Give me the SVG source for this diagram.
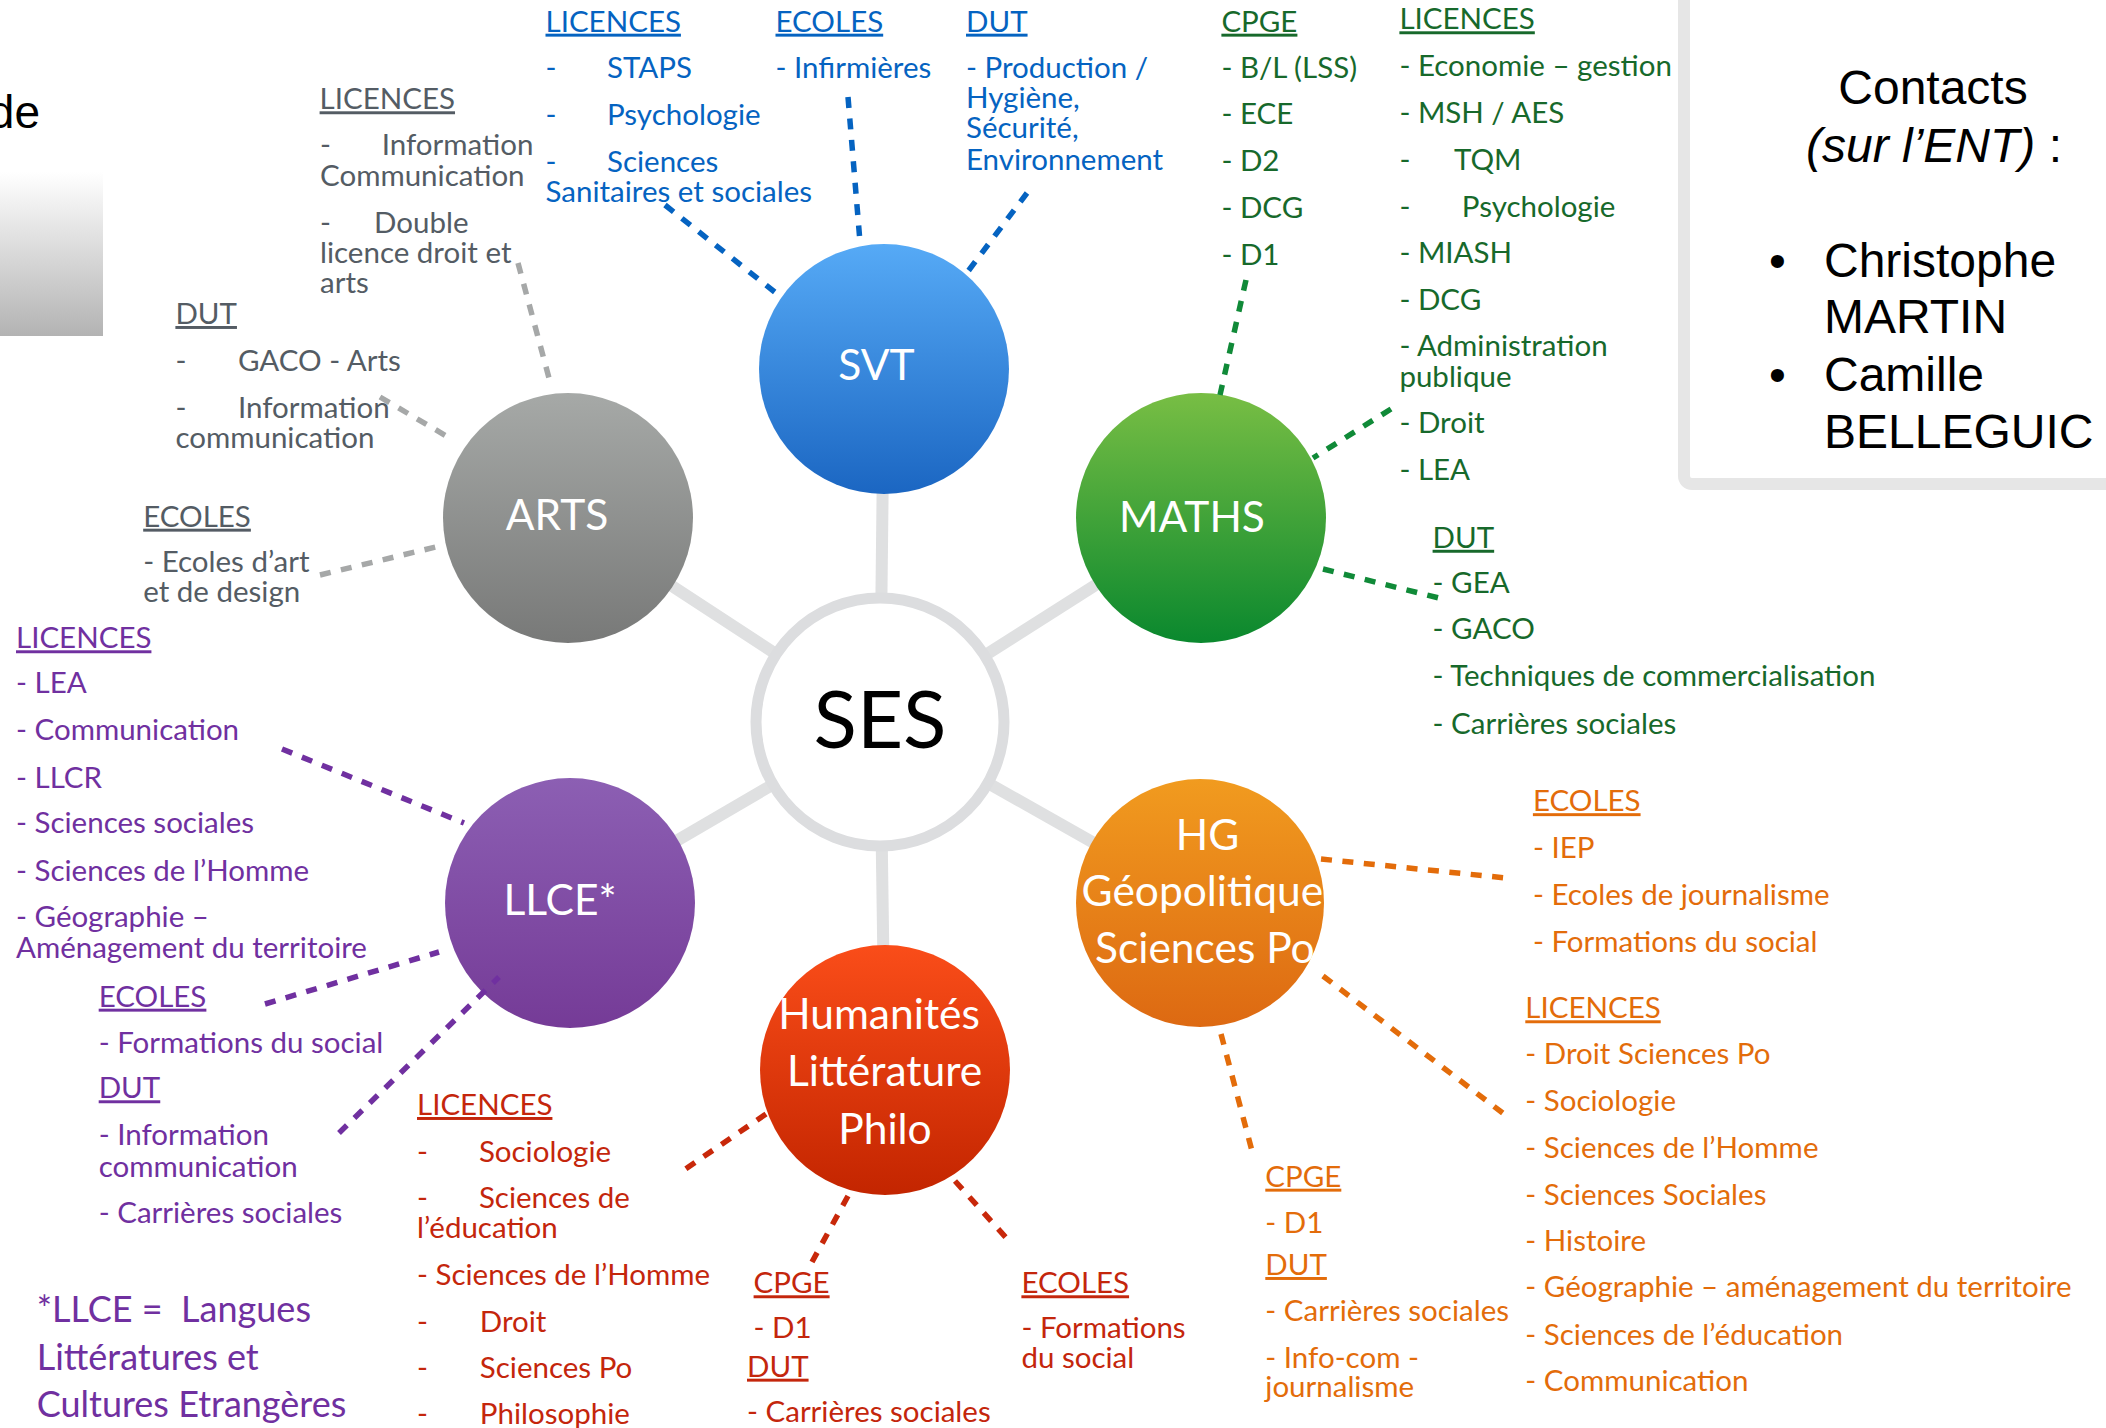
<svg xmlns="http://www.w3.org/2000/svg" width="2106" height="1428" viewBox="0 0 2106 1428">
<style>
.t{font-family:Lato,'Open Sans',sans-serif;font-size:29.5px}
.u{text-decoration:underline}
.blue{fill:#0563c1}
.gray{fill:#545c64}
.green{fill:#17692b}
.purple{fill:#7030a0}
.red{fill:#c4260c}
.orange{fill:#e36c0a}
.lbl{font-family:Lato,'Open Sans',sans-serif;font-size:42.5px;fill:#ffffff}
.ar{font-family:'Liberation Sans',Arial,sans-serif;font-size:48px;fill:#000000}
.spoke{stroke:#dfe0e1;stroke-width:12;fill:none}
.c{fill:none;stroke-width:5.5;stroke-dasharray:11 10.5}
.cb{stroke:#0563c1}.cg{stroke:#a6a8a8}.cgr{stroke:#108a38}.cp{stroke:#7030a0}.cr{stroke:#c8280a}.co{stroke:#e36c0a}
</style>
<defs>
<linearGradient id="gSVT" x1="0" y1="0" x2="0" y2="1"><stop offset="0" stop-color="#56aaf6"/><stop offset="1" stop-color="#1b66c2"/></linearGradient>
<linearGradient id="gARTS" x1="0" y1="0" x2="0" y2="1"><stop offset="0" stop-color="#a6a9a7"/><stop offset="1" stop-color="#787978"/></linearGradient>
<linearGradient id="gMATHS" x1="0" y1="0" x2="0" y2="1"><stop offset="0" stop-color="#78be44"/><stop offset="1" stop-color="#0a882e"/></linearGradient>
<linearGradient id="gLLCE" x1="0" y1="0" x2="0" y2="1"><stop offset="0" stop-color="#8c5fb3"/><stop offset="1" stop-color="#753b97"/></linearGradient>
<linearGradient id="gHG" x1="0" y1="0" x2="0" y2="1"><stop offset="0" stop-color="#f19b1f"/><stop offset="1" stop-color="#dd6912"/></linearGradient>
<linearGradient id="gHUM" x1="0" y1="0" x2="0" y2="1"><stop offset="0" stop-color="#fa4d19"/><stop offset="1" stop-color="#c32500"/></linearGradient>
<linearGradient id="gBox" x1="0" y1="0" x2="0" y2="1"><stop offset="0" stop-color="#ffffff"/><stop offset="1" stop-color="#b3b3b3"/></linearGradient>
</defs>
<rect width="2106" height="1428" fill="#ffffff"/>

<g id="decor">
<rect x="0" y="172" width="103" height="164" fill="url(#gBox)"/>
<text class="ar" x="40" y="128" text-anchor="end" style="font-size:46px">de</text>
</g>

<g id="spokes">
<line class="spoke" x1="880" y1="722" x2="884" y2="369"/>
<line class="spoke" x1="880" y1="722" x2="885" y2="1070"/>
<line class="spoke" x1="880" y1="722" x2="568" y2="518"/>
<line class="spoke" x1="880" y1="722" x2="1201" y2="518"/>
<line class="spoke" x1="880" y1="722" x2="570" y2="903"/>
<line class="spoke" x1="880" y1="722" x2="1200" y2="903"/>
</g>

<g id="node-ses">
<circle cx="880" cy="722" r="124" fill="#ffffff" stroke="#dcdddf" stroke-width="11"/>
<text x="880" y="748" text-anchor="middle" style="font-family:Lato,'Open Sans',sans-serif;font-size:80px;fill:#000">SES</text>
</g>
<g id="node-svt">
<circle cx="884" cy="369" r="125" fill="url(#gSVT)"/>
<text class="lbl" x="876.5" y="380" text-anchor="middle">SVT</text>
</g>
<g id="node-arts">
<circle cx="568" cy="518" r="125" fill="url(#gARTS)"/>
<text class="lbl" x="557" y="530" text-anchor="middle">ARTS</text>
</g>
<g id="node-maths">
<circle cx="1201" cy="518" r="125" fill="url(#gMATHS)"/>
<text class="lbl" x="1192" y="532" text-anchor="middle">MATHS</text>
</g>
<g id="node-llce">
<circle cx="570" cy="903" r="125" fill="url(#gLLCE)"/>
<text class="lbl" x="560" y="915" text-anchor="middle">LLCE*</text>
</g>
<g id="node-hg">
<circle cx="1200" cy="903" r="124" fill="url(#gHG)"/>
<text class="lbl" x="1207.6" y="850" text-anchor="middle">HG</text>
<text class="lbl" x="1081.6" y="906.4">Géopolitique</text>
<text class="lbl" x="1095" y="962.8">Sciences Po</text>
</g>
<g id="node-hum">
<circle cx="885" cy="1070" r="125" fill="url(#gHUM)"/>
<text class="lbl" x="879" y="1029" text-anchor="middle">Humanités</text>
<text class="lbl" x="884.6" y="1086.4" text-anchor="middle">Littérature</text>
<text class="lbl" x="885" y="1143.6" text-anchor="middle">Philo</text>
</g>

<g id="connectors">
<line class="c cb" x1="665" y1="205" x2="776" y2="293"/>
<line class="c cb" x1="848" y1="97" x2="859.5" y2="236"/>
<line class="c cb" x1="1027" y1="193" x2="966" y2="274"/>
<line class="c cg" x1="518" y1="263" x2="549" y2="378"/>
<line class="c cg" x1="380" y1="397" x2="453" y2="440"/>
<line class="c cg" x1="320" y1="575" x2="444" y2="545"/>
<line class="c cgr" x1="1246" y1="280" x2="1220" y2="395"/>
<line class="c cgr" x1="1391" y1="409" x2="1313" y2="458"/>
<line class="c cgr" x1="1323" y1="569" x2="1439" y2="598"/>
<line class="c cp" x1="282" y1="749" x2="464" y2="823"/>
<line class="c cp" x1="265" y1="1004" x2="439" y2="952"/>
<line class="c cp" x1="339" y1="1133" x2="499" y2="977"/>
<line class="c cr" x1="766" y1="1114" x2="684" y2="1170"/>
<line class="c cr" x1="848" y1="1196" x2="812" y2="1262"/>
<line class="c cr" x1="955" y1="1181" x2="1009" y2="1241"/>
<line class="c co" x1="1321" y1="859" x2="1506" y2="878"/>
<line class="c co" x1="1323" y1="976" x2="1504" y2="1114"/>
<line class="c co" x1="1221" y1="1034" x2="1252" y2="1151"/>
</g>

<g id="svt-list" class="t blue">
<text class="u" x="545.5" y="31.7">LICENCES</text>
<text x="545.5" y="78">-<tspan x="607">STAPS</tspan></text>
<text x="545.5" y="125">-<tspan x="607">Psychologie</tspan></text>
<text x="545.5" y="172">-<tspan x="607">Sciences</tspan></text>
<text x="545.5" y="202">Sanitaires et sociales</text>
<text class="u" x="775.5" y="31.7">ECOLES</text>
<text x="775.5" y="78">- Infirmières</text>
<text class="u" x="966" y="31.7">DUT</text>
<text x="966" y="78">- Production /</text>
<text x="966" y="108">Hygiène,</text>
<text x="966" y="138">Sécurité,</text>
<text x="966" y="170">Environnement</text>
</g>

<g id="arts-list" class="t gray">
<text class="u" x="319.6" y="109.3">LICENCES</text>
<text x="320" y="155">-<tspan x="381.7">Information</tspan></text>
<text x="320" y="185.7">Communication</text>
<text x="320" y="233">-<tspan x="374">Double</tspan></text>
<text x="320" y="263.3">licence droit et</text>
<text x="320" y="293.3">arts</text>
<text class="u" x="175.4" y="324">DUT</text>
<text x="175.4" y="370.7">-<tspan x="238">GACO - Arts</tspan></text>
<text x="175.4" y="418.3">-<tspan x="238">Information</tspan></text>
<text x="175.4" y="448.3">communication</text>
<text class="u" x="143.2" y="526.7">ECOLES</text>
<text x="143.2" y="571.7">- Ecoles d’art</text>
<text x="143.2" y="601.7">et de design</text>
</g>

<g id="maths-list" class="t green">
<text class="u" x="1221.4" y="31.7">CPGE</text>
<text x="1221.4" y="78.3">- B/L (LSS)</text>
<text x="1221.4" y="124">- ECE</text>
<text x="1221.4" y="170.7">- D2</text>
<text x="1221.4" y="218.3">- DCG</text>
<text x="1221.4" y="265">- D1</text>
<text class="u" x="1399.4" y="29.3">LICENCES</text>
<text x="1399.4" y="76">- Economie – gestion</text>
<text x="1399.4" y="122.7">- MSH / AES</text>
<text x="1399.4" y="170">-<tspan x="1454">TQM</tspan></text>
<text x="1399.4" y="216.7">-<tspan x="1461.8">Psychologie</tspan></text>
<text x="1399.4" y="263.3">- MIASH</text>
<text x="1399.4" y="310">- DCG</text>
<text x="1399.4" y="356">- Administration</text>
<text x="1399.4" y="386.7">publique</text>
<text x="1399.4" y="433.3">- Droit</text>
<text x="1399.4" y="480">- LEA</text>
<text class="u" x="1432.6" y="547.8">DUT</text>
<text x="1432.6" y="592.6">- GEA</text>
<text x="1432.6" y="639">- GACO</text>
<text x="1432.6" y="685.5">- Techniques de commercialisation</text>
<text x="1432.6" y="733.8">- Carrières sociales</text>
</g>

<g id="llce-list" class="t purple">
<text class="u" x="16" y="648.3">LICENCES</text>
<text x="16" y="693.3">- LEA</text>
<text x="16" y="740">- Communication</text>
<text x="16" y="788.3">- LLCR</text>
<text x="16" y="833.3">- Sciences sociales</text>
<text x="16" y="880.7">- Sciences de l’Homme</text>
<text x="16" y="926.7">- Géographie –</text>
<text x="16" y="958.3">Aménagement du territoire</text>
<text class="u" x="98.7" y="1006.7">ECOLES</text>
<text x="98.7" y="1053.3">- Formations du social</text>
<text class="u" x="98.7" y="1098.3">DUT</text>
<text x="98.7" y="1145">- Information</text>
<text x="98.7" y="1176.7">communication</text>
<text x="98.7" y="1223.3">- Carrières sociales</text>
<text x="36.7" y="1321.7" style="font-size:36px">*LLCE =&#160; Langues</text>
<text x="36.7" y="1370" style="font-size:36px">Littératures et</text>
<text x="36.7" y="1416.7" style="font-size:36px">Cultures Etrangères</text>
</g>

<g id="hum-list" class="t red">
<text class="u" x="417" y="1115">LICENCES</text>
<text x="417" y="1161.7">-<tspan x="478.9">Sociologie</tspan></text>
<text x="417" y="1208.3">-<tspan x="478.9">Sciences de</tspan></text>
<text x="417" y="1238.3">l’éducation</text>
<text x="417" y="1285">- Sciences de l’Homme</text>
<text x="417" y="1331.7">-<tspan x="479.8">Droit</tspan></text>
<text x="417" y="1378.3">-<tspan x="479.8">Sciences Po</tspan></text>
<text x="417" y="1424.3">-<tspan x="479.8">Philosophie</tspan></text>
<text class="u" x="753.6" y="1293.3">CPGE</text>
<text x="753.6" y="1338.3">- D1</text>
<text class="u" x="747" y="1376.7">DUT</text>
<text x="747" y="1421.7">- Carrières sociales</text>
<text class="u" x="1021.4" y="1293.3">ECOLES</text>
<text x="1021.4" y="1338.3">- Formations</text>
<text x="1021.4" y="1368.3">du social</text>
</g>

<g id="hg-list" class="t orange">
<text class="u" x="1532.9" y="811.2">ECOLES</text>
<text x="1532.9" y="857.7">- IEP</text>
<text x="1532.9" y="904.9">- Ecoles de journalisme</text>
<text x="1532.9" y="951.7">- Formations du social</text>
<text class="u" x="1525.3" y="1018.3">LICENCES</text>
<text x="1525.3" y="1064">- Droit Sciences Po</text>
<text x="1525.3" y="1110.7">- Sociologie</text>
<text x="1525.3" y="1158.3">- Sciences de l’Homme</text>
<text x="1525.3" y="1205">- Sciences Sociales</text>
<text x="1525.3" y="1251">- Histoire</text>
<text x="1525.3" y="1297.3">- Géographie – aménagement du territoire</text>
<text x="1525.3" y="1345">- Sciences de l’éducation</text>
<text x="1525.3" y="1391">- Communication</text>
<text class="u" x="1265.3" y="1186.7">CPGE</text>
<text x="1265.3" y="1233.3">- D1</text>
<text class="u" x="1265.3" y="1275">DUT</text>
<text x="1265.3" y="1320.7">- Carrières sociales</text>
<text x="1265.3" y="1368.3">- Info-com -</text>
<text x="1265.3" y="1396.7">journalisme</text>
</g>

<g id="contacts">
<rect x="1684" y="-20" width="460" height="504" rx="8" fill="#ffffff" stroke="#e6e6e6" stroke-width="12"/>
<text class="ar" x="1933" y="104" text-anchor="middle">Contacts</text>
<text class="ar" x="1934" y="161.7" text-anchor="middle"><tspan font-style="italic">(sur l’ENT)</tspan> :</text>
<text class="ar" x="1769" y="276.7">•</text>
<text class="ar" x="1824" y="276.7">Christophe</text>
<text class="ar" x="1824" y="333.3">MARTIN</text>
<text class="ar" x="1769" y="390.7">•</text>
<text class="ar" x="1824" y="390.7">Camille</text>
<text class="ar" x="1824" y="448.3">BELLEGUIC</text>
</g>
</svg>
